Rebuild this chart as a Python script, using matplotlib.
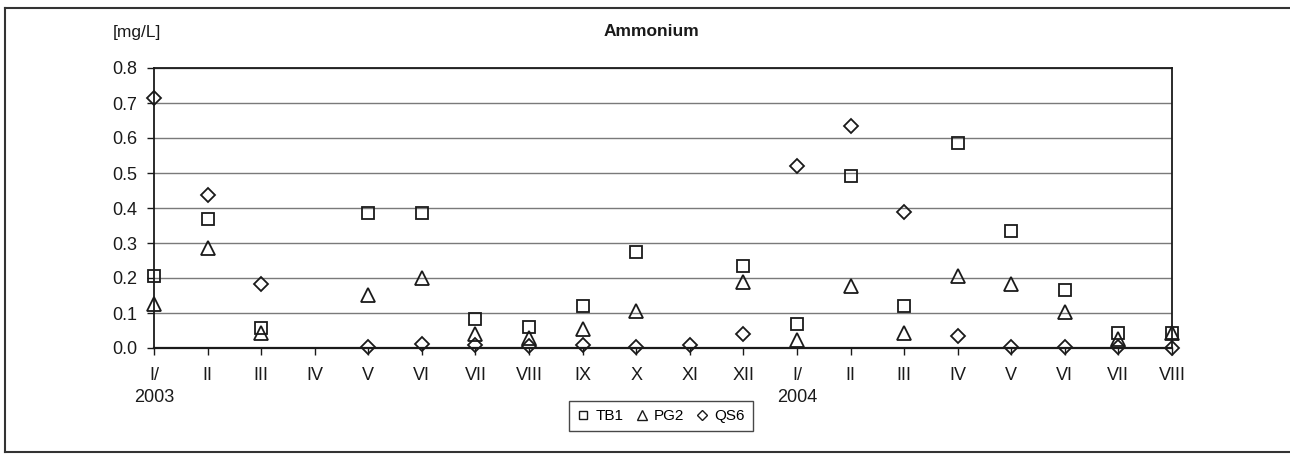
import matplotlib
matplotlib.use("Agg")
import matplotlib.pyplot as plt
import matplotlib.transforms as mtransforms
from matplotlib.lines import Line2D

plt.rcParams["font.family"] = ["Liberation Sans", "DejaVu Sans"]

# month labels, Jan 2003 .. Aug 2004
months = ["I/", "II", "III", "IV", "V", "VI", "VII", "VIII", "IX", "X", "XI", "XII",
          "I/", "II", "III", "IV", "V", "VI", "VII", "VIII"]
years = {0: "2003", 12: "2004"}

# ammonium [mg/L], None = no sample
tb1 = [0.206, 0.368, 0.056, None, 0.385, 0.385, 0.084, 0.060, 0.120, 0.273, None, 0.235,
       0.068, 0.492, 0.120, 0.587, 0.335, 0.167, 0.043, 0.044]
pg2 = [0.127, 0.287, 0.043, None, 0.151, 0.199, 0.040, 0.029, 0.055, 0.107, None, 0.190,
       0.024, 0.176, 0.042, 0.207, 0.182, 0.102, 0.027, 0.042]
qs6 = [0.715, 0.438, 0.182, None, 0.003, 0.011, 0.010, 0.005, 0.010, 0.003, 0.008, 0.040,
       0.520, 0.635, 0.390, 0.033, 0.004, 0.004, 0.003, 0.000]

W, H = 1290, 457
fig = plt.figure(figsize=(W / 100, H / 100), dpi=100)

# axes box in pixel coordinates of the reference
left, right, top, bottom = 154, 1172, 68, 348
ax = fig.add_axes([left / W, 1 - bottom / H, (right - left) / W, (bottom - top) / H])

ink = "#1a1a1a"


def pts(vals):
    xs = [i for i, v in enumerate(vals) if v is not None]
    ys = [v for v in vals if v is not None]
    return xs, ys


series = [(tb1, "s", 8.5, "TB1"), (pg2, "^", 10.0, "PG2"), (qs6, "D", 6.8, "QS6")]
for vals, mk, ms, lab in series:
    xs, ys = pts(vals)
    ax.plot(xs, ys, linestyle="none", marker=mk, markersize=ms, markerfacecolor="none",
            markeredgecolor=ink, markeredgewidth=1.3, clip_on=False, zorder=5, label=lab)

ax.set_xlim(0, len(months) - 1)
ax.set_ylim(0, 0.8)
ax.set_yticks([i / 10 for i in range(9)])
ax.set_yticklabels([f"{i / 10:.1f}" for i in range(9)])
ax.set_xticks(range(len(months)))
ax.set_xticklabels(months)

ax.tick_params(axis="y", direction="out", length=5, width=1, pad=7, labelsize=13, colors=ink)
ax.tick_params(axis="x", direction="out", length=5, width=1, pad=9, labelsize=13, colors=ink)

ax.grid(axis="y", color="#7a7a7a", linewidth=1.0)
ax.set_axisbelow(True)
for name, sp in ax.spines.items():
    sp.set_color(ink)
    sp.set_linewidth(1.6 if name == "bottom" else 1.3)

# year labels under the January ticks
trans = mtransforms.blended_transform_factory(ax.transData, fig.transFigure)
for i, yr in years.items():
    fig.text(i, 1 - 397 / H, yr, transform=trans, ha="center", va="center",
             fontsize=13, color=ink)

fig.text(651 / W, 1 - 31 / H, "Ammonium", ha="center", va="center",
         fontsize=12.5, fontweight="bold", color=ink)
fig.text(113 / W, 1 - 33 / H, "[mg/L]", ha="left", va="center", fontsize=12.5, color=ink)

# legend
handles = [Line2D([], [], linestyle="none", marker=mk, markersize=ms * 0.7,
                  markerfacecolor="none", markeredgecolor=ink, markeredgewidth=1.0)
           for _, mk, ms, _ in series]
labels = [lab for *_, lab in series]
leg = fig.legend(handles, labels, loc="center", ncol=3,
                 bbox_to_anchor=(661 / W, 1 - 416 / H), frameon=True, fancybox=False,
                 fontsize=11, handlelength=0.8, handletextpad=0.4, columnspacing=0.8,
                 borderpad=0.5)
leg.get_frame().set_edgecolor(ink)
leg.get_frame().set_linewidth(1.0)

# outer chart frame (right side runs past the image edge)
frame_kw = dict(color="#333333", linewidth=1.5, transform=fig.transFigure)
fig.add_artist(Line2D([5 / W, 1.0], [1 - 8 / H, 1 - 8 / H], **frame_kw))
fig.add_artist(Line2D([5 / W, 1.0], [1 - 452 / H, 1 - 452 / H], **frame_kw))
fig.add_artist(Line2D([5 / W, 5 / W], [1 - 8 / H, 1 - 452 / H], **frame_kw))

fig.savefig("out.png", dpi=100, facecolor="white")
